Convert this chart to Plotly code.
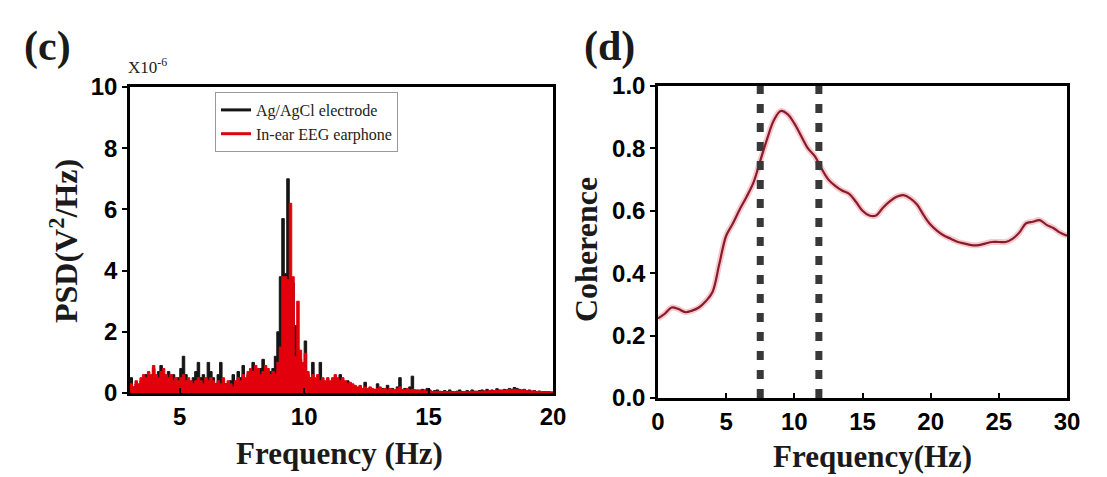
import numpy as np
import plotly.graph_objects as go

# ---------------- Panel (c): PSD ----------------
psd_freq = np.round(np.arange(3.0, 20.001, 0.1), 1)

psd_electrode = [
    0.5, 0.2, 0.3, 0.2, 0.4, 0.3, 0.6, 0.4, 0.5, 0.8,
    0.5, 0.7, 0.9, 0.6, 0.5, 0.7, 0.4, 0.6, 0.3, 0.5,
    0.8, 1.2, 0.6, 0.4, 0.3, 0.5, 0.7, 1.0, 0.5, 0.6,
    0.4, 1.0, 0.7, 0.5, 0.3, 0.6, 1.0, 0.4, 0.3, 0.2,
    0.4, 0.6, 0.3, 0.7, 0.5, 0.9, 0.4, 0.6, 0.5, 1.0,
    0.7, 0.6, 0.8, 1.1, 0.7, 0.6, 0.7, 0.8, 1.2, 2.0,
    3.8, 5.7, 3.9, 7.0, 3.8, 3.6, 2.2, 1.4, 1.1, 0.8,
    1.7, 0.6, 0.5, 1.0, 0.4, 0.3, 1.0, 0.4, 0.3, 0.2,
    0.3, 0.2, 0.4, 0.3, 0.6, 0.4, 0.3, 0.4, 0.3, 0.2,
    0.2, 0.1, 0.2, 0.1, 0.35, 0.1, 0.15, 0.1, 0.1, 0.3,
    0.1, 0.15, 0.1, 0.25, 0.1, 0.15, 0.1, 0.2, 0.5, 0.1,
    0.15, 0.1, 0.2, 0.55, 0.1, 0.1, 0.08, 0.12, 0.1, 0.15,
    0.1, 0.05, 0.08, 0.1, 0.05, 0.05, 0.08, 0.05, 0.1, 0.05,
    0.04, 0.06, 0.1, 0.05, 0.04, 0.08, 0.05, 0.1, 0.06, 0.05,
    0.08, 0.1, 0.06, 0.12, 0.08, 0.1, 0.06, 0.14, 0.1, 0.08,
    0.12, 0.1, 0.15, 0.12, 0.18, 0.15, 0.12, 0.1, 0.12, 0.08,
    0.1, 0.06, 0.08, 0.05, 0.06, 0.04, 0.05, 0.03, 0.04, 0.03,
    0.03,
]

psd_earphone = [
    0.3, 0.2, 0.4, 0.3, 0.5, 0.6, 0.5, 0.7, 0.6, 0.9,
    0.6, 0.5, 0.7, 0.8, 0.6, 0.5, 0.6, 0.4, 0.5, 0.4,
    0.5, 0.6, 0.4, 0.5, 0.4, 0.3, 0.4, 0.5, 0.4, 0.3,
    0.5, 0.4, 0.5, 0.4, 0.3, 0.4, 0.3, 0.5, 0.3, 0.4,
    0.3, 0.2, 0.4, 0.5, 0.4, 0.6, 0.5, 0.7, 0.8, 0.7,
    0.9, 0.8, 0.6, 0.7, 0.9, 0.8, 0.6, 0.7, 0.6, 1.0,
    1.5, 3.8, 3.8, 3.7, 6.2, 3.8, 1.2, 3.0, 1.4, 1.0,
    1.3, 0.7, 0.5, 0.6, 0.5, 0.6, 0.4, 0.5, 0.4, 0.5,
    0.4, 0.5, 0.6, 0.5, 0.4, 0.5, 0.4, 0.3, 0.35, 0.3,
    0.25, 0.2, 0.25, 0.15, 0.2, 0.15, 0.2, 0.15, 0.12, 0.15,
    0.2, 0.12, 0.15, 0.1, 0.15, 0.12, 0.1, 0.15, 0.2, 0.12,
    0.1, 0.15, 0.1, 0.12, 0.1, 0.08, 0.1, 0.07, 0.08, 0.06,
    0.07, 0.05, 0.06, 0.05, 0.06, 0.04, 0.05, 0.04, 0.05, 0.04,
    0.05, 0.04, 0.05, 0.04, 0.05, 0.04, 0.05, 0.06, 0.05, 0.06,
    0.05, 0.06, 0.07, 0.06, 0.08, 0.07, 0.08, 0.09, 0.08, 0.1,
    0.09, 0.1, 0.12, 0.1, 0.12, 0.11, 0.1, 0.09, 0.1, 0.08,
    0.07, 0.06, 0.07, 0.05, 0.06, 0.05, 0.04, 0.05, 0.04, 0.03,
    0.03,
]

psd_x_ticks = [5, 10, 15, 20]
psd_y_ticks = [0, 2, 4, 6, 8, 10]

# ---------------- Panel (d): Coherence ----------------
coh_freq = [0, 0.5, 1.0, 1.5, 2.0, 2.5, 3.0, 3.5, 4.0, 4.5, 5.0, 5.5, 6.0, 6.5,
            7.0, 7.5, 8.0, 8.5, 9.0, 9.5, 10.0, 10.5, 11.0, 11.5, 12.0, 12.5,
            13.0, 13.5, 14.0, 14.5, 15.0, 15.5, 16.0, 16.5, 17.0, 17.5, 18.0,
            18.5, 19.0, 19.5, 20.0, 20.5, 21.0, 21.5, 22.0, 22.5, 23.0, 23.5,
            24.0, 24.5, 25.0, 25.5, 26.0, 26.5, 27.0, 27.5, 28.0, 28.5, 29.0,
            29.5, 30.0]
coh_values = [0.255, 0.27, 0.29, 0.285, 0.275, 0.28, 0.29, 0.31, 0.34, 0.43,
              0.52, 0.56, 0.605, 0.645, 0.69, 0.76, 0.83, 0.89, 0.92, 0.91,
              0.88, 0.84, 0.80, 0.775, 0.735, 0.70, 0.68, 0.665, 0.655, 0.63,
              0.60, 0.585, 0.585, 0.61, 0.63, 0.645, 0.65, 0.64, 0.62, 0.585,
              0.555, 0.535, 0.52, 0.51, 0.50, 0.495, 0.49, 0.49, 0.495, 0.50,
              0.50, 0.50, 0.51, 0.53, 0.56, 0.565, 0.57, 0.555, 0.545, 0.53,
              0.52]
alpha_band = [7.5, 11.8]
coh_x_ticks = [0, 5, 10, 15, 20, 25, 30]
coh_y_ticks = [0.0, 0.2, 0.4, 0.6, 0.8, 1.0]

BLACK = "#151515"
RED = "#e2000c"
COH = "#8a1b2a"

fig = go.Figure()

fig.add_trace(go.Scatter(x=psd_freq, y=psd_electrode, mode="lines", line=dict(color=BLACK, width=1, shape="hv"),
                         fill="tozeroy", fillcolor=BLACK, showlegend=False, xaxis="x", yaxis="y"))
fig.add_trace(go.Scatter(x=psd_freq, y=psd_earphone, mode="lines", line=dict(color=RED, width=1, shape="hv"),
                         fill="tozeroy", fillcolor=RED, showlegend=False, xaxis="x", yaxis="y"))
fig.add_trace(go.Scatter(x=[None], y=[None], mode="lines", line=dict(color=BLACK, width=3),
                         name="Ag/AgCl electrode", xaxis="x", yaxis="y"))
fig.add_trace(go.Scatter(x=[None], y=[None], mode="lines", line=dict(color=RED, width=3),
                         name="In-ear EEG earphone", xaxis="x", yaxis="y"))

fig.add_trace(go.Scatter(x=coh_freq, y=coh_values, mode="lines", line=dict(color="#f6c9cf", width=6, shape="spline"),
                         showlegend=False, hoverinfo="skip", xaxis="x2", yaxis="y2"))
fig.add_trace(go.Scatter(x=coh_freq, y=coh_values, mode="lines", line=dict(color=COH, width=2.2, shape="spline"),
                         showlegend=False, xaxis="x2", yaxis="y2"))

shapes = []
for f in alpha_band:
    shapes.append(dict(type="line", xref="x2", yref="y2 domain", x0=f, x1=f, y0=0, y1=1,
                       line=dict(color="#383838", width=7, dash="9px,10px")))

tickfont = dict(family="Liberation Sans, Arial", size=24, color="black", weight="bold")
axis_common = dict(showline=True, linecolor="black", linewidth=2.5, mirror=True, showgrid=False,
                   zeroline=False, ticklen=5, tickwidth=2, tickcolor="black", tickfont=tickfont,
                   automargin=False)

fig.update_layout(
    width=1107, height=477, margin=dict(l=0, r=0, t=0, b=0, pad=0, autoexpand=False),
    paper_bgcolor="white", plot_bgcolor="white",
    xaxis=dict(domain=[130/1107, 553/1107], range=[3, 20], tickvals=psd_x_ticks, ticks="inside",
               anchor="y", **axis_common),
    yaxis=dict(domain=[1-393/477, 1-87/477], range=[0, 10], tickvals=psd_y_ticks, ticks="outside",
               anchor="x", **axis_common),
    xaxis2=dict(domain=[658/1107, 1067/1107], range=[0, 30], tickvals=coh_x_ticks, ticks="inside",
                anchor="y2", **axis_common),
    yaxis2=dict(domain=[1-398/477, 1-86/477], range=[0, 1], tickvals=coh_y_ticks, tickformat=".1f",
                ticks="outside", anchor="x2", **axis_common),
    legend=dict(x=215/1107, y=1-92/477, xanchor="left", yanchor="top", bgcolor="white",
                bordercolor="#9a9a9a", borderwidth=1, tracegroupgap=0,
                font=dict(family="Liberation Serif, Times New Roman", size=16, color="#222")),
    shapes=shapes,
)

serif_b = dict(family="Liberation Serif, Times New Roman", color="#1a1a1a", weight="bold")
ann = [
    dict(text="(c)", x=22/1107, y=1-46/477, font=dict(size=42, **serif_b), xanchor="left"),
    dict(text="(d)", x=582/1107, y=1-46/477, font=dict(size=42, **serif_b), xanchor="left"),
    dict(text="X10<sup>-6</sup>", x=126/1107, y=1-66/477, font=dict(family="Liberation Serif", size=17, color="#222"),
         xanchor="left"),
    dict(text="Frequency (Hz)", x=339/1107, y=1-453/477, font=dict(size=31, **serif_b)),
    dict(text="Frequency(Hz)", x=872/1107, y=1-456/477, font=dict(size=31, **serif_b)),
    dict(text="PSD(V<sup>2</sup>/Hz)", x=64/1107, y=1-241/477, textangle=-90, font=dict(size=32, **serif_b)),
    dict(text="Coherence", x=586/1107, y=1-250/477, textangle=-90, font=dict(size=32, **serif_b)),
]
for a in ann:
    a.update(xref="paper", yref="paper", showarrow=False)
    a.setdefault("xanchor", "center")
    a.setdefault("yanchor", "middle")
fig.update_layout(annotations=ann)

fig.write_html("out.html")
